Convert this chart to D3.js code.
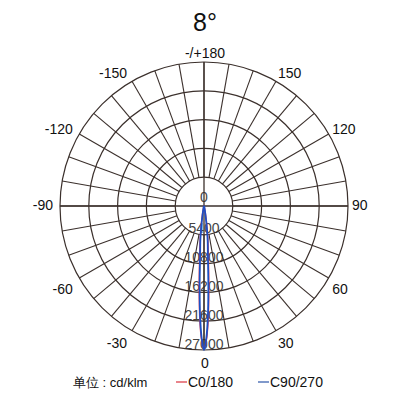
<!DOCTYPE html>
<html>
<head>
<meta charset="utf-8">
<script src="https://cdnjs.cloudflare.com/ajax/libs/d3/7.8.5/d3.min.js"></script>
<style>
  body { margin: 0; background: #fff; }
  text { font-family: "Liberation Sans", Arial, sans-serif; }
</style>
</head>
<body>
<script>
var width = 400, height = 400;

// gamma angles (deg) and intensities (cd/klm), mirrored on both halves
var gammas = [0, 1, 2, 3, 4, 5, 6, 7, 8, 9, 10, 12, 15, 20, 25, 30, 40, 50, 60, 70, 80, 90];
var c0Values = [26800, 25200, 21800, 17000, 12600, 9400, 7300, 5500, 3900, 2600, 1700, 800, 350, 150, 80, 50, 30, 20, 10, 5, 0, 0];
var c90Values = [27000, 24800, 20800, 15600, 11000, 8200, 6600, 4800, 3200, 2000, 1200, 600, 300, 150, 80, 50, 30, 20, 10, 5, 0, 0];

var ringTicks = [0, 5400, 10800, 16200, 21600, 27000];
var angleTicks = [180, 150, 120, 90, 60, 30, 0, -30, -60, -90, -120, -150];
var angleLabels = ["-/+180", "150", "120", "90", "60", "30", "0", "-30", "-60", "-90", "-120", "-150"];

var cx = 204, cy = 206, R = 144;

var svg = d3.select("body").append("svg")
    .attr("width", width)
    .attr("height", height);

var r = d3.scaleLinear().domain([0, 27000]).range([0, R]);

function px(a, rad) { return cx + rad * Math.sin(a * Math.PI / 180); }
function py(a, rad) { return cy + rad * Math.cos(a * Math.PI / 180); }

// ring value labels (under the grid)
svg.append("g").selectAll("text")
    .data(ringTicks)
    .enter().append("text")
    .attr("x", cx)
    .attr("y", function (d, i) { return cy + r(d) - (i == 0 ? 4 : 1.5); })
    .attr("text-anchor", "middle")
    .attr("font-size", 14)
    .attr("fill", "#444")
    .text(function (d) { return d; });

var gridColor = "#3b302c";
var grid = svg.append("g");

// radial spokes every 10 degrees, from first ring outward
grid.selectAll("line.spoke")
    .data(d3.range(0, 360, 10))
    .enter().append("line")
    .attr("x1", function (d) { return px(d, r(ringTicks[1])); })
    .attr("y1", function (d) { return py(d, r(ringTicks[1])); })
    .attr("x2", function (d) { return px(d, R); })
    .attr("y2", function (d) { return py(d, R); })
    .attr("stroke", gridColor)
    .attr("stroke-width", 1.1);

// full axes through center
grid.append("line").attr("x1", cx - R).attr("x2", cx + R).attr("y1", cy).attr("y2", cy)
    .attr("stroke", gridColor).attr("stroke-width", 1.3);
grid.append("line").attr("x1", cx).attr("x2", cx).attr("y1", cy - R).attr("y2", cy + R)
    .attr("stroke", gridColor).attr("stroke-width", 1.3);

grid.selectAll("circle")
    .data(ringTicks.slice(1))
    .enter().append("circle")
    .attr("cx", cx).attr("cy", cy)
    .attr("r", function (d) { return r(d); })
    .attr("fill", "none")
    .attr("stroke", gridColor)
    .attr("stroke-width", 1.2);

// angle labels
svg.append("g").selectAll("text")
    .data(angleTicks)
    .enter().append("text")
    .attr("x", function (d) {
        var s = Math.sin(d * Math.PI / 180);
        var x = px(d, R + 4);
        if (Math.abs(s) < 0.01) return cx + 1;
        return s > 0 ? x : x - 3;
    })
    .attr("y", function (d) {
        var c = Math.cos(d * Math.PI / 180);
        var y = py(d, R + 4);
        return c > 0.01 ? y + 14 : y + 4 + 4 * c;
    })
    .attr("text-anchor", function (d) {
        var s = Math.sin(d * Math.PI / 180);
        return Math.abs(s) < 0.01 ? "middle" : (s > 0 ? "start" : "end");
    })
    .attr("font-size", 14)
    .attr("fill", "#111")
    .text(function (d, i) { return angleLabels[i]; });

// intensity curves
function curvePoints(vals) {
    var pts = [];
    for (var i = gammas.length - 1; i > 0; i--) pts.push([-gammas[i], vals[i]]);
    for (var j = 0; j < gammas.length; j++) pts.push([gammas[j], vals[j]]);
    return pts;
}

var line = d3.line()
    .x(function (d) { return px(d[0], r(d[1])); })
    .y(function (d) { return py(d[0], r(d[1])); })
    .curve(d3.curveCatmullRomClosed);

svg.append("path")
    .attr("d", line(curvePoints(c0Values)))
    .attr("fill", "none")
    .attr("stroke", "#e8364c")
    .attr("stroke-width", 1.4);

svg.append("path")
    .attr("d", line(curvePoints(c90Values)))
    .attr("fill", "none")
    .attr("stroke", "#1d4fc4")
    .attr("stroke-width", 1.8);

// title
svg.append("text")
    .attr("x", 205).attr("y", 31)
    .attr("text-anchor", "middle")
    .attr("font-size", 25)
    .attr("fill", "#111")
    .text("8°");

// legend
var legend = svg.append("g").attr("font-size", 14).attr("fill", "#111");
legend.append("text").attr("x", 73).attr("y", 387)
    .attr("font-family", "'Noto Sans CJK SC', sans-serif")
    .attr("font-size", 13)
    .text("单位 : cd/klm");
legend.append("line").attr("x1", 176).attr("x2", 187).attr("y1", 382).attr("y2", 382)
    .attr("stroke", "#e0505a").attr("stroke-width", 1.4);
legend.append("text").attr("x", 188).attr("y", 387).text("C0/180");
legend.append("line").attr("x1", 258).attr("x2", 269).attr("y1", 382).attr("y2", 382)
    .attr("stroke", "#4a6db5").attr("stroke-width", 1.4);
legend.append("text").attr("x", 270).attr("y", 387).text("C90/270");
</script>
</body>
</html>
